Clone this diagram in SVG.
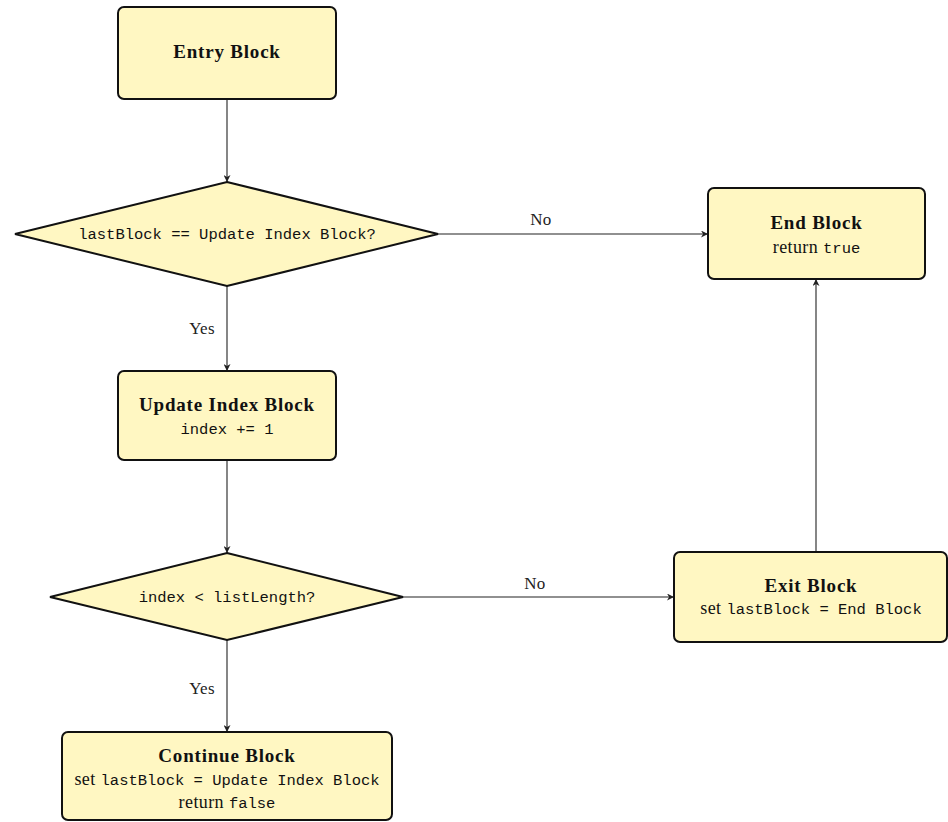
<svg xmlns="http://www.w3.org/2000/svg" width="948" height="822" viewBox="0 0 948 822">
  <style>
    .box { fill: #fff7c2; stroke: #111; stroke-width: 2; }
    .edge { fill: none; stroke: #222; stroke-width: 1.1; marker-end: url(#arrow); }
    .title { font-family: "Liberation Serif", "Times New Roman", serif; font-weight: bold; font-size: 19px; letter-spacing: 0.8px; fill: #111; text-anchor: middle; }
    .rm { font-family: "Liberation Serif", "Times New Roman", serif; font-size: 18px; letter-spacing: 0.4px; fill: #111; text-anchor: middle; }
    .tt { font-family: "Liberation Mono", "DejaVu Sans Mono", monospace; font-size: 15.5px; letter-spacing: 0; }
    .lbl { font-family: "Liberation Serif", "Times New Roman", serif; font-size: 17px; letter-spacing: 0.3px; fill: #222; text-anchor: middle; }
  </style>
  <defs>
    <marker id="arrow" viewBox="0 0 10 10" refX="10" refY="5" markerWidth="7" markerHeight="7" markerUnits="userSpaceOnUse" orient="auto">
      <path d="M0,0 L10,5 L0,10 L3,5 Z" fill="#222"/>
    </marker>
  </defs>

  <!-- connectors -->
  <g id="edges">
    <line class="edge" x1="227" y1="99" x2="227" y2="182"/>
    <line class="edge" x1="227" y1="286" x2="227" y2="371"/>
    <text class="lbl" x="202" y="334">Yes</text>
    <line class="edge" x1="438" y1="234" x2="708" y2="234"/>
    <text class="lbl" x="541" y="225">No</text>
    <line class="edge" x1="227" y1="460" x2="227" y2="553"/>
    <line class="edge" x1="403" y1="597" x2="674" y2="597"/>
    <text class="lbl" x="535" y="589">No</text>
    <line class="edge" x1="227" y1="640" x2="227" y2="732"/>
    <text class="lbl" x="202" y="694">Yes</text>
    <line class="edge" x1="816" y1="552" x2="816" y2="279"/>
  </g>

  <!-- nodes -->
  <g id="entry">
    <rect class="box" x="118" y="7" width="218" height="92" rx="6"/>
    <text class="title" x="227" y="58">Entry Block</text>
  </g>

  <g id="check-last">
    <polygon class="box" points="227,182 438,234 227,286 15,234"/>
    <text class="rm tt" x="227" y="239">lastBlock == Update Index Block?</text>
  </g>

  <g id="end">
    <rect class="box" x="708" y="188" width="217" height="91" rx="6"/>
    <text class="title" x="816.5" y="229">End Block</text>
    <text class="rm" x="816.5" y="253">return <tspan class="tt">true</tspan></text>
  </g>

  <g id="update-index">
    <rect class="box" x="118" y="371" width="218" height="89" rx="6"/>
    <text class="title" x="227" y="411">Update Index Block</text>
    <text class="rm tt" x="227" y="434">index += 1</text>
  </g>

  <g id="check-length">
    <polygon class="box" points="227,553 403,597 227,640 50,597"/>
    <text class="rm tt" x="227" y="602">index &lt; listLength?</text>
  </g>

  <g id="exit">
    <rect class="box" x="674" y="552" width="273" height="90" rx="6"/>
    <text class="title" x="811" y="592">Exit Block</text>
    <text class="rm" x="811" y="614">set <tspan class="tt">lastBlock = End Block</tspan></text>
  </g>

  <g id="continue">
    <rect class="box" x="62" y="732" width="330" height="88" rx="6"/>
    <text class="title" x="227" y="762">Continue Block</text>
    <text class="rm" x="227" y="785">set <tspan class="tt">lastBlock = Update Index Block</tspan></text>
    <text class="rm" x="227" y="808">return <tspan class="tt">false</tspan></text>
  </g>
</svg>
